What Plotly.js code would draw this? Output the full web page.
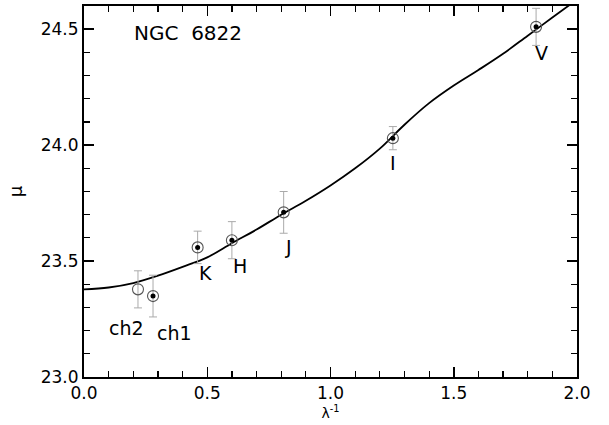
<!DOCTYPE html>
<html>
<head>
<meta charset="utf-8">
<script src="https://cdn.plot.ly/plotly-3.0.1.min.js"></script>
<style>html,body{margin:0;padding:0;background:#fff;}#chart{width:609px;height:425px;}</style>
</head>
<body>
<div id="chart"></div>
<script>
// Photometric bands
var bandNames = ["ch2", "ch1", "K", "H", "J", "I", "V"];
var invLambda = [0.219, 0.280, 0.461, 0.600, 0.810, 1.253, 1.834];
var muValues  = [23.378, 23.349, 23.559, 23.590, 23.710, 24.030, 24.510];
var muErrors  = [0.08, 0.09, 0.07, 0.08, 0.09, 0.05, 0.08];
var hasDot    = [false, true, true, true, true, true, true];

// Fitted extinction curve
var curveX = [0.0, 0.1, 0.2, 0.3, 0.4, 0.5, 0.6, 0.7, 0.8, 0.9, 1.0, 1.1, 1.2, 1.3, 1.4, 1.5, 1.6, 1.7, 1.8, 1.9, 2.0];
var curveY = [23.378, 23.386, 23.405, 23.437, 23.475, 23.516, 23.577, 23.636, 23.700, 23.760, 23.826, 23.900, 23.985, 24.088, 24.181, 24.257, 24.324, 24.394, 24.472, 24.550, 24.628];

// Label positions for band names (data units)
var labelX = [0.174, 0.369, 0.491, 0.631, 0.828, 1.254, 1.857];
var labelY = [23.211, 23.190, 23.448, 23.478, 23.562, 23.922, 24.398];

var xTickVals = [0.0, 0.5, 1.0, 1.5, 2.0];
var yTickVals = [23.0, 23.5, 24.0, 24.5];

var dotX = [], dotY = [];
for (var i = 0; i < bandNames.length; i++) {
  if (hasDot[i]) { dotX.push(invLambda[i]); dotY.push(muValues[i]); }
}

var FONT = "DejaVu Sans, Liberation Sans, Arial, sans-serif";

var traces = [
  {
    x: curveX, y: curveY, mode: "lines", type: "scatter",
    line: {color: "#000", width: 1.8, shape: "spline", smoothing: 1},
    hoverinfo: "skip", showlegend: false
  },
  {
    x: invLambda, y: muValues, mode: "markers", type: "scatter",
    marker: {symbol: "circle-open", size: 11, color: "#555", line: {width: 1.1, color: "#555"}},
    error_y: {type: "data", array: muErrors, visible: true, color: "#aaa", thickness: 1, width: 4},
    showlegend: false
  },
  {
    x: dotX, y: dotY, mode: "markers", type: "scatter",
    marker: {symbol: "circle", size: 5, color: "#000"},
    showlegend: false
  }
];

var annotations = [];
for (var j = 0; j < bandNames.length; j++) {
  annotations.push({
    x: labelX[j], y: labelY[j], xref: "x", yref: "y", text: bandNames[j],
    showarrow: false, font: {size: 19, color: "#000", family: FONT}
  });
}
annotations.push({
  x: 0.195, y: 24.484, xref: "x", yref: "y", xanchor: "left", text: "NGC\u00A0\u00A06822",
  showarrow: false, font: {size: 20, color: "#000", family: FONT}
});

var axisCommon = {
  showgrid: false, zeroline: false, showline: true, linecolor: "#000", linewidth: 2,
  mirror: "ticks", ticks: "inside", ticklen: 10, tickwidth: 1.5, tickcolor: "#000",
  tickfont: {size: 17, color: "#000", family: FONT}
};

var layout = {
  width: 609, height: 425,
  margin: {l: 84, r: 32, t: 6, b: 48},
  paper_bgcolor: "#fff", plot_bgcolor: "#fff",
  font: {family: FONT, color: "#000"},
  xaxis: Object.assign({}, axisCommon, {
    range: [0, 2.0], tickvals: xTickVals, tickformat: ".1f",
    minor: {ticks: "inside", dtick: 0.1, ticklen: 6, tickwidth: 1.2, tickcolor: "#000"},
    title: {text: "\u03BB<sup>-1</sup>", font: {size: 14, color: "#000", family: FONT}, standoff: 2}
  }),
  yaxis: Object.assign({}, axisCommon, {
    range: [23.0, 24.6], tickvals: yTickVals, tickformat: ".1f",
    minor: {ticks: "inside", dtick: 0.1, ticklen: 6, tickwidth: 1.2, tickcolor: "#000"},
    title: {text: "\u03BC", font: {size: 18, color: "#000", family: FONT}, standoff: 13}
  }),
  annotations: annotations
};

Plotly.newPlot("chart", traces, layout, {displayModeBar: false, staticPlot: true});
</script>
</body>
</html>
